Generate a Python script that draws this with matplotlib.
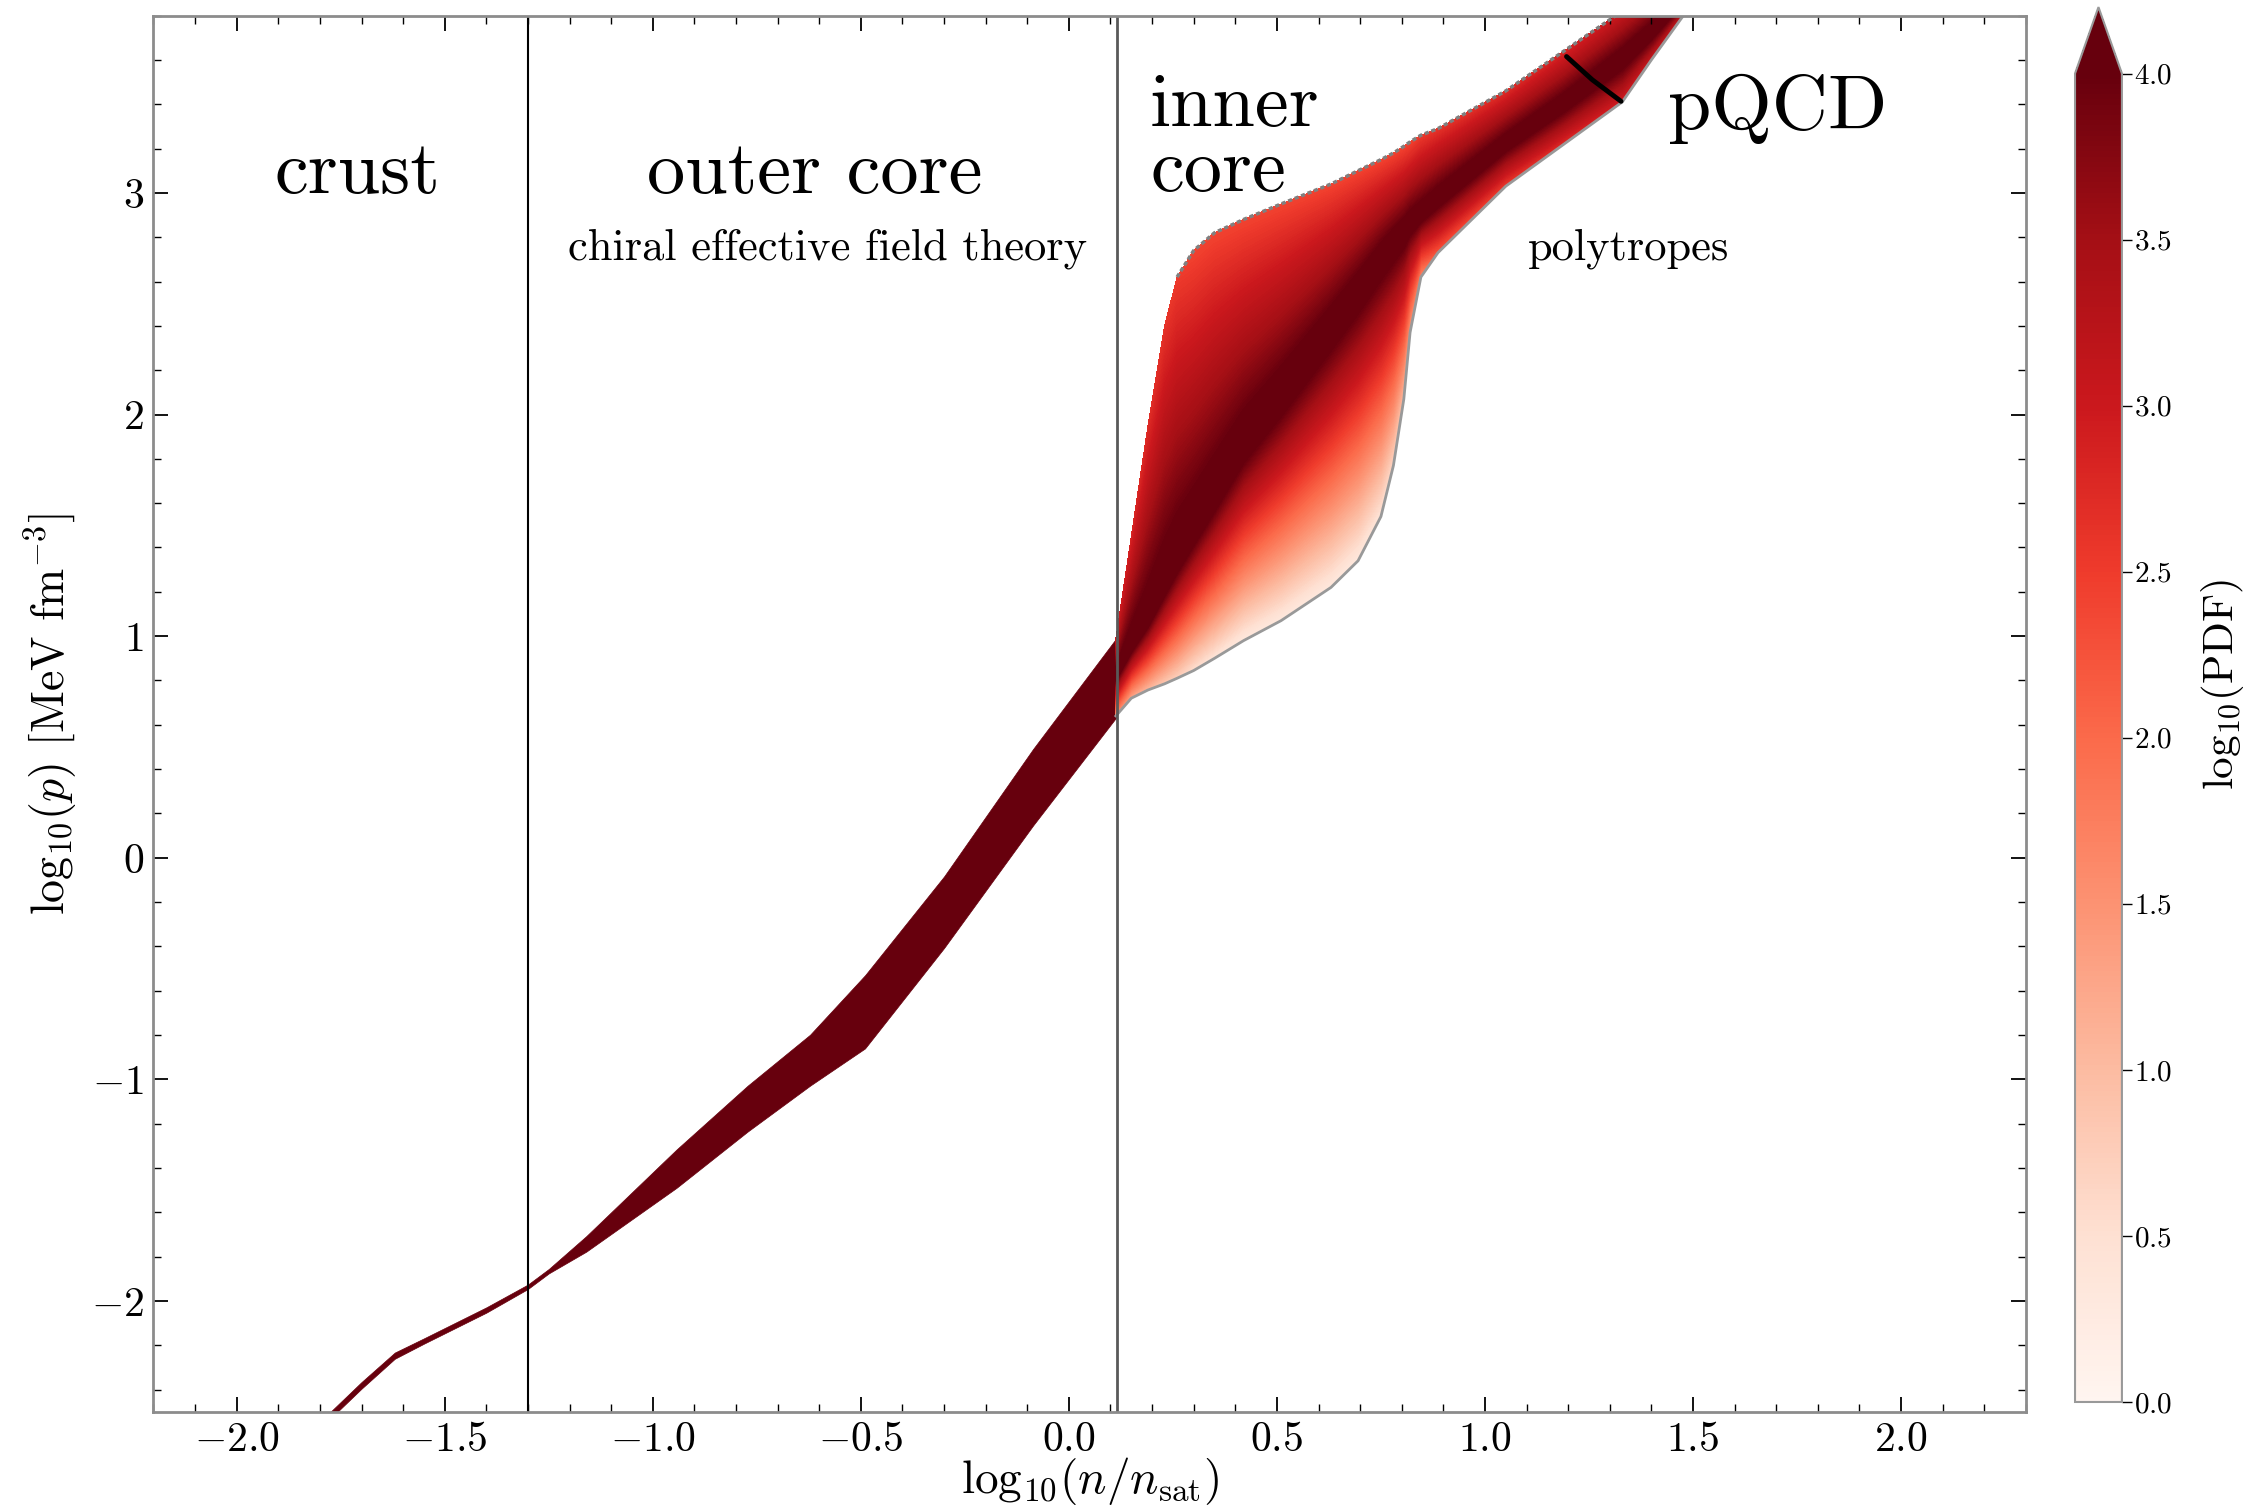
import numpy as np
import matplotlib
matplotlib.use("Agg")
import matplotlib.pyplot as plt
from matplotlib.ticker import MultipleLocator
from matplotlib.colors import Normalize
from matplotlib.cm import ScalarMappable

plt.rcParams['font.family'] = 'cmr10'
plt.rcParams['mathtext.fontset'] = 'cm'
plt.rcParams['axes.formatter.use_mathtext'] = True

# crust band (thin, single EOS)
crust_x = [-1.80, -1.70, -1.62, -1.55, -1.40, -1.30]
crust_lo = [-2.575, -2.395, -2.26, -2.192, -2.052, -1.945]
crust_hi = [-2.545, -2.365, -2.232, -2.168, -2.028, -1.925]

# outer core band (chiral EFT)
core_x = [-1.30, -1.25, -1.16, -0.943, -0.772, -0.622, -0.49, -0.30, -0.086, 0.113]
core_lo = [-1.945, -1.875, -1.777, -1.489, -1.235, -1.028, -0.86, -0.407, 0.146, 0.631]
core_hi = [-1.925, -1.855, -1.707, -1.316, -1.028, -0.798, -0.53, -0.084, 0.491, 0.988]

# inner core (polytropes): lower edge, ridge, upper edge and log10(PDF) there
fan_x = [0.113, 0.15, 0.19, 0.23, 0.26, 0.30, 0.35, 0.42, 0.51, 0.63, 0.695,
         0.75, 0.78, 0.805, 0.82, 0.846, 0.887, 1.05, 1.19, 1.33, 1.40, 1.50]
fan_lo = [0.64, 0.72, 0.757, 0.785, 0.81, 0.845, 0.90, 0.98, 1.07, 1.22, 1.34,
          1.54, 1.77, 2.07, 2.37, 2.62, 2.73, 3.03, 3.22, 3.41, 3.60, 3.86]
fan_mid = [0.82, 0.95, 1.07, 1.22, 1.33, 1.46, 1.62, 1.85, 2.07, 2.38, 2.55,
           2.70, 2.77, 2.82, 2.86, 2.90, 2.97, 3.22, 3.40, 3.60, 3.72, 3.92]
fan_hi = [0.99, 1.45, 1.95, 2.40, 2.62, 2.74, 2.82, 2.88, 2.95, 3.04, 3.10,
          3.15, 3.18, 3.21, 3.23, 3.26, 3.29, 3.46, 3.64, 3.82, 3.92, 4.02]
pdf_lo = [1.5, 1.2, 1.0, 0.8, 0.7, 0.5, 0.4, 0.3, 0.3, 0.3, 0.3,
          0.4, 0.6, 0.9, 1.3, 1.6, 2.2, 2.5, 2.7, 2.9, 3.0, 3.0]
pdf_mid = [4.3, 4.3, 4.3, 4.3, 4.3, 4.3, 4.3, 4.3, 4.3, 4.3, 4.3,
           4.3, 4.3, 4.3, 4.3, 4.3, 4.3, 4.3, 4.3, 4.3, 4.3, 4.3]
pdf_hi = [3.0, 2.8, 2.7, 2.6, 2.5, 2.4, 2.4, 2.4, 2.4, 2.4, 2.4,
          2.4, 2.4, 2.4, 2.4, 2.5, 2.6, 2.7, 2.8, 3.0, 3.0, 3.0]

# pQCD constraint
pqcd_x = [1.196, 1.258, 1.327]
pqcd_y = [3.615, 3.51, 3.413]

crust_edge = -1.30
inner_edge = 0.115

cmap = plt.get_cmap('Reds')
dark = cmap(1.0)

fig = plt.figure(figsize=(22.44, 15.08), dpi=100)
ax = fig.add_axes([0.0684, 0.0637, 0.8344, 0.926])

ax.fill_between(crust_x, crust_lo, crust_hi, color=dark, lw=0.5, edgecolor=dark)
ax.fill_between(core_x, core_lo, core_hi, color=dark, lw=0.5, edgecolor=dark)

X = np.array([fan_x, fan_x, fan_x])
Y = np.array([fan_lo, fan_mid, fan_hi])
Z = np.array([pdf_lo, pdf_mid, pdf_hi])
levels = np.linspace(0, 4, 161)
ax.contourf(X, Y, Z, levels=levels, cmap=cmap, extend='max')

# grey outline of the polytrope region
ax.plot(fan_x[4:], fan_hi[4:], color='0.5', lw=2.5, ls=(0, (1.2, 0.8)))
ax.plot(fan_x, fan_lo, color='0.6', lw=2)

ax.plot(pqcd_x, pqcd_y, color='k', lw=3.5, solid_capstyle='round')

ax.axvline(crust_edge, color='k', lw=1.5)
ax.axvline(inner_edge, color='0.35', lw=2)

ax.text(-1.71, 3.0, 'crust', fontsize=55, ha='center', va='baseline')
ax.text(-0.61, 3.0, 'outer core', fontsize=55, ha='center', va='baseline')
ax.text(-0.58, 2.70, 'chiral effective field theory', fontsize=32, ha='center', va='baseline')
ax.text(0.195, 3.30, 'inner', fontsize=55, ha='left', va='baseline')
ax.text(0.195, 3.01, 'core', fontsize=55, ha='left', va='baseline')
ax.text(1.44, 3.29, 'pQCD', fontsize=56, ha='left', va='baseline')
ax.text(1.346, 2.70, 'polytropes', fontsize=32, ha='center', va='baseline')

ax.set_xlim(-2.2, 2.3)
ax.set_ylim(-2.5, 3.8)
ax.set_xticks(np.arange(-2.0, 2.01, 0.5))
ax.set_yticks([-2, -1, 0, 1, 2, 3])
ax.xaxis.set_minor_locator(MultipleLocator(0.1))
ax.yaxis.set_minor_locator(MultipleLocator(0.2))
ax.tick_params(which='both', direction='in', top=True, right=True, labelsize=30, pad=7)
ax.tick_params(which='major', length=11, width=1.3)
ax.tick_params(which='minor', length=6, width=1.0)
for s in ax.spines.values():
    s.set_color('0.55')
    s.set_linewidth(2)

ax.set_xlabel(r'$\mathrm{log}_{10}(n/n_{\rm sat})$', fontsize=34)
ax.set_ylabel(r'$\mathrm{log}_{10}(p)$ [MeV fm$^{-3}$]', fontsize=33)
ax.xaxis.set_label_coords(0.5, -0.031)
ax.yaxis.set_label_coords(-0.039, 0.5)

cax = fig.add_axes([0.9247, 0.0703, 0.0209, 0.925])
sm = ScalarMappable(norm=Normalize(0, 4), cmap=cmap)
cb = fig.colorbar(sm, cax=cax, extend='max', ticks=np.arange(0, 4.01, 0.5))
cb.ax.tick_params(labelsize=21, length=7, width=1.0, direction='out', pad=2)
cb.outline.set_edgecolor('0.6')
cb.outline.set_linewidth(1.5)
cb.set_label(r'$\mathrm{log}_{10}(\rm PDF)$', fontsize=31)
cb.ax.yaxis.set_label_coords(2.64, 0.54)

fig.savefig('out.png', dpi=100)
